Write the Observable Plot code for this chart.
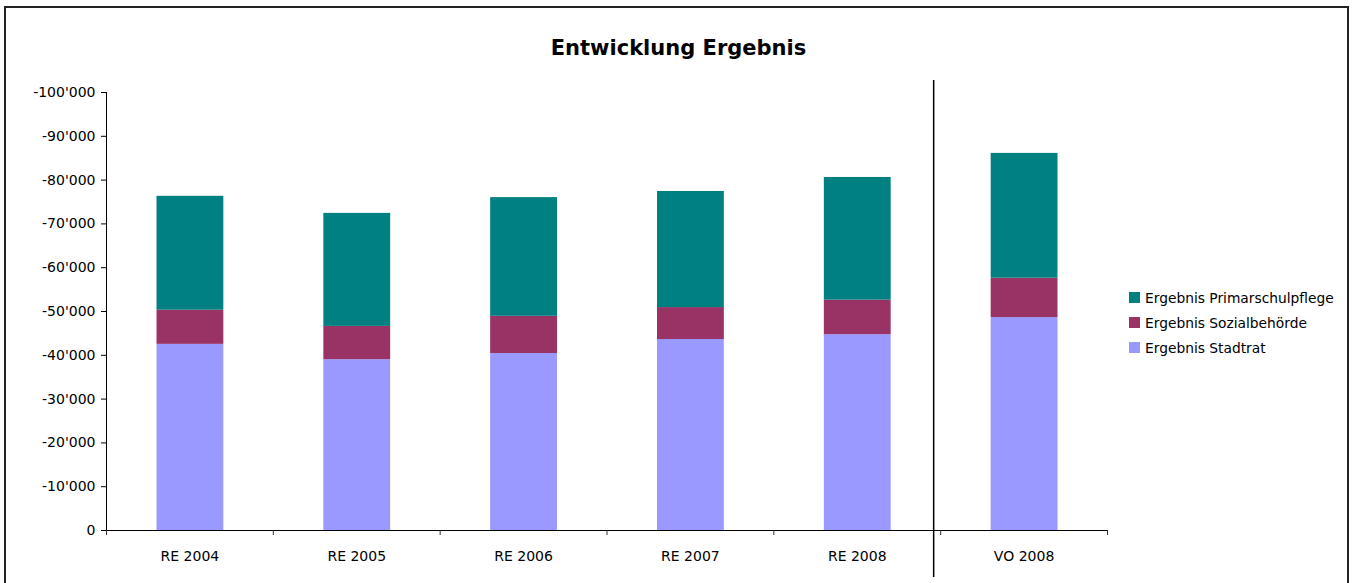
<!DOCTYPE html>
<html>
<head>
<meta charset="utf-8">
<script src="https://cdn.jsdelivr.net/npm/d3@7"></script>
<script src="https://cdn.jsdelivr.net/npm/@observablehq/plot@0.6"></script>
<style>
  html, body { margin: 0; padding: 0; background: #fff; }
  #wrap { position: relative; width: 1357px; height: 583px; overflow: hidden; font-family: "DejaVu Sans", sans-serif; }
  #frame { position: absolute; left: 4px; top: 6px; width: 1345px; height: 620px; border: 2px solid #222; box-sizing: border-box; }
  #title { position: absolute; left: 0; top: 38px; width: 1357px; text-align: center; font-weight: bold; font-size: 21px; line-height: 21px; color: #000; }
  #chart { position: absolute; left: 0; top: 0; }
  #legend { position: absolute; left: 1129px; top: 285px; font-size: 13.8px; color: #000; }
  .item { display: flex; align-items: center; height: 25px; }
  .sw { width: 11px; height: 11px; margin-right: 5px; }
</style>
</head>
<body>
<div id="wrap">
  <div id="frame"></div>
  <div id="chart"></div>
  <div id="title">Entwicklung Ergebnis</div>
  <div id="legend"></div>
</div>
<script>
const categories = ["RE 2004", "RE 2005", "RE 2006", "RE 2007", "RE 2008", "VO 2008"];
const seriesNames = ["Ergebnis Stadtrat", "Ergebnis Sozialbehörde", "Ergebnis Primarschulpflege"];
const stadtrat = [-42500, -39000, -40400, -43600, -44700, -48600];
const sozial = [-7800, -7600, -8500, -7300, -7900, -9000];
const primar = [-26000, -25800, -27100, -26500, -28000, -28500];
const colors = ["#9999FF", "#993366", "#008080"];
const yTicks = [0, -10000, -20000, -30000, -40000, -50000, -60000, -70000, -80000, -90000, -100000];

const seriesValues = [stadtrat, sozial, primar];
const data = [];
seriesNames.forEach((s, si) => {
  categories.forEach((c, ci) => data.push({category: c, series: s, value: seriesValues[si][ci]}));
});

const fmt = d3.formatLocale({decimal: ".", thousands: "'", grouping: [3], currency: ["", ""], minus: "-"}).format(",");

const W = 1357, H = 583, mL = 106, mR = 250, mT = 92, mB = 53;
const step = (W - mL - mR) / categories.length;

const chart = Plot.plot({
  width: W,
  height: H,
  marginLeft: mL,
  marginRight: mR,
  marginTop: mT,
  marginBottom: mB,
  style: {fontFamily: "DejaVu Sans, sans-serif", fontSize: "14px", color: "#000", background: "transparent"},
  x: {domain: categories, padding: 0, round: false, label: null, tickSize: 0, tickPadding: 21, line: true},
  y: {domain: [0, -100000], ticks: yTicks, tickFormat: fmt, tickSize: 5, tickPadding: 6, label: null, line: true},
  color: {domain: seriesNames, range: colors},
  marks: [
    Plot.barY(data, Plot.stackY({x: "category", y: "value", fill: "series", insetLeft: 50.5, insetRight: 49.5})),
    Plot.ruleX(categories, {x: d => d, dx: -step / 2, y1: 0, y2: 0, insetBottom: -5, stroke: "#333"}),
    Plot.ruleX([categories[categories.length - 1]], {x: d => d, dx: step / 2, y1: 0, y2: 0, insetBottom: -5, stroke: "#333"}),
    Plot.ruleX([categories[categories.length - 1]], {x: d => d, dx: -step / 2 - 7, y1: -100000, y2: 0, insetTop: -12, insetBottom: -47, stroke: "#000", strokeWidth: 1.5})
  ]
});
document.getElementById("chart").appendChild(chart);

const legend = document.getElementById("legend");
[2, 1, 0].forEach(i => {
  const it = document.createElement("div");
  it.className = "item";
  const sw = document.createElement("div");
  sw.className = "sw";
  sw.style.background = colors[i];
  const tx = document.createElement("span");
  tx.textContent = seriesNames[i];
  it.appendChild(sw);
  it.appendChild(tx);
  legend.appendChild(it);
});
</script>
</body>
</html>
